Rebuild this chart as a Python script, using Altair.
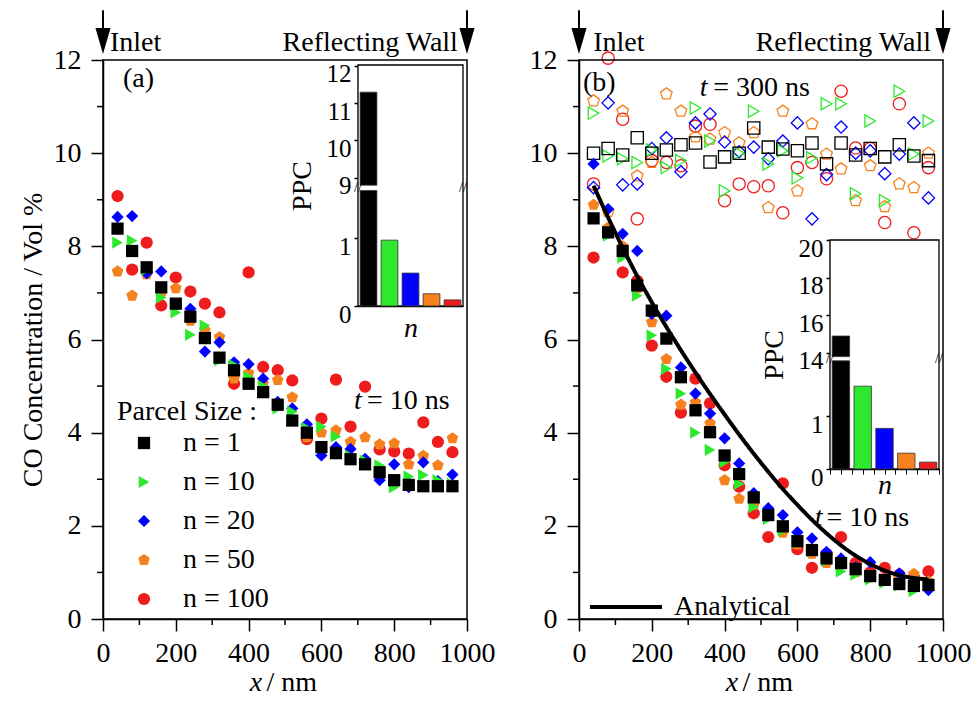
import altair as alt
import pandas as pd

FONT = "Liberation Serif"
FS = 28

# ---------------- data ----------------
x_nm = [40, 80, 120, 160, 200, 240, 280, 320, 360, 400, 440, 480,
        520, 560, 600, 640, 680, 720, 760, 800, 840, 880, 920, 960]

series = ["n = 1", "n = 10", "n = 20", "n = 50", "n = 100"]
series_colors = ["#000000", "#2ee82e", "#0000ff", "#f5821f", "#ee1c1c"]
PENTAGON = "M0,-1L0.951,-0.309L0.588,0.809L-0.588,0.809L-0.951,-0.309Z"
series_shapes = ["square", "triangle-right", "diamond", PENTAGON, "circle"]

# panel (a): t = 10 ns
a_n1 = [8.38, 7.90, 7.55, 7.12, 6.77, 6.49, 6.03, 5.61, 5.34, 5.05, 4.87, 4.60,
        4.26, 4.00, 3.69, 3.56, 3.43, 3.32, 3.15, 2.98, 2.88, 2.85, 2.85, 2.85]
a_n10 = [8.08, 8.12, 7.50, 6.90, 6.58, 6.10, 6.30, 5.55, 5.45, 5.20, 5.00, 4.52,
         4.45, 4.10, 4.13, 3.92, 3.50, 3.40, 3.30, 2.83, 3.06, 3.09, 2.98, 2.90]
a_n20 = [8.63, 8.65, 7.42, 7.46, 6.73, 6.66, 5.74, 5.94, 5.51, 5.47, 5.16, 4.66,
         4.52, 4.18, 3.51, 3.69, 3.65, 3.44, 2.98, 3.32, 2.83, 3.36, 2.96, 3.10]
a_n50 = [7.46, 6.94, 7.40, 7.00, 7.10, 6.40, 6.20, 6.05, 5.16, 5.28, 5.05, 5.13,
         4.76, 3.90, 4.00, 4.05, 3.80, 3.90, 3.75, 3.77, 3.32, 3.50, 3.30, 3.88]
a_n100 = [9.08, 7.50, 8.08, 6.73, 7.33, 7.03, 6.77, 6.58, 5.05, 7.44, 5.41, 5.34,
          5.12, 3.86, 4.30, 5.14, 4.13, 4.99, 3.64, 3.60, 3.55, 4.22, 3.80, 3.58]

# panel (b): t = 10 ns (filled)
b10_n1 = [8.60, 8.30, 7.90, 7.16, 6.62, 6.02, 5.19, 4.48, 4.01, 3.51, 3.11, 2.61,
          2.23, 1.99, 1.67, 1.48, 1.30, 1.20, 1.07, 0.92, 0.84, 0.75, 0.71, 0.73]
b10_n10 = [8.61, 8.23, 7.76, 6.94, 6.09, 5.37, 4.84, 4.00, 3.63, 3.37, 2.90, 2.40,
           2.15, 1.90, 1.64, 1.45, 1.25, 1.02, 0.95, 0.85, 0.78, 0.72, 0.60, 0.72]
b10_n20 = [9.77, 8.80, 8.27, 7.90, 6.55, 6.51, 5.40, 4.84, 4.41, 3.88, 3.34, 2.70,
           2.38, 2.23, 1.86, 1.73, 1.44, 1.30, 1.11, 1.22, 0.84, 0.98, 0.80, 0.62]
b10_n50 = [8.89, 8.40, 8.00, 7.10, 6.37, 5.58, 4.60, 4.65, 4.20, 2.98, 2.58, 2.45,
           2.30, 1.85, 1.60, 1.40, 1.20, 1.25, 1.00, 0.90, 0.85, 0.90, 0.97, 0.80]
b10_n100 = [7.76, 8.30, 7.44, 7.26, 5.87, 5.20, 4.43, 5.16, 4.63, 3.30, 2.84, 2.27,
            1.76, 2.91, 1.50, 1.10, 1.40, 1.76, 1.20, 1.00, 1.10, 0.95, 0.90, 1.02]

# panel (b): t = 300 ns (open)
b300_n1 = [10.00, 10.10, 9.96, 10.33, 10.00, 10.07, 10.18, 10.22, 9.81, 9.92, 10.00, 10.54,
           10.13, 10.09, 10.05, 10.22, 9.77, 10.22, 9.96, 10.10, 9.92, 10.18, 9.94, 9.84]
b300_n10 = [10.86, 9.94, 9.88, 9.80, 10.07, 9.69, 9.84, 10.97, 10.26, 9.19, 10.00, 10.90,
            9.77, 10.05, 9.47, 9.90, 11.06, 11.06, 9.13, 10.69, 8.98, 11.33, 9.98, 10.69]
b300_n20 = [9.26, 11.08, 9.32, 9.34, 10.10, 10.33, 9.60, 10.65, 10.84, 10.24, 10.03, 10.13,
            9.88, 10.26, 10.65, 8.59, 9.54, 10.56, 10.00, 10.05, 9.56, 9.98, 10.65, 9.04]
b300_n50 = [11.12, 8.75, 10.90, 9.51, 9.80, 11.27, 10.90, 10.35, 10.30, 10.44, 10.22, 10.44,
            8.83, 10.90, 9.19, 10.63, 9.98, 9.66, 8.98, 9.73, 8.85, 9.34, 9.26, 10.00]
b300_n100 = [9.34, 12.04, 10.73, 8.59, 9.84, 9.80, 9.73, 10.58, 10.62, 8.98, 9.34, 9.28,
             9.30, 8.72, 9.69, 9.80, 9.45, 11.33, 10.11, 10.10, 8.51, 11.06, 8.29, 9.69]

# analytical curve
ana_y = [9.30, 8.62, 7.97, 7.36, 6.80, 6.27, 5.77, 5.29, 4.83, 4.39, 3.96, 3.55,
         3.16, 2.79, 2.45, 2.13, 1.84, 1.58, 1.36, 1.18, 1.04, 0.94, 0.88, 0.85]

# insets: particles per cell
inset_n = ["1", "10", "20", "50", "100"]
ppc_a = [11.29, 0.97, 0.485, 0.18, 0.09]
ppc_b = [14.9, 1.57, 0.77, 0.30, 0.13]

# ticks
y_major = [0, 2, 4, 6, 8, 10, 12]
y_minor = [1, 3, 5, 7, 9, 11]
x_major = [0, 200, 400, 600, 800, 1000]
x_minor = [100, 300, 500, 700, 900]
inset_a_ticks = [0, 1, 9, 10, 11, 12]
inset_b_ticks = [0, 1, 14, 16, 18, 20]
inset_b_xticks = [0, 0.5, 1, 1.5, 2, 2.5, 3, 3.5, 4, 4.5, 5]

# broken axis parameters (lower top, gap, upper start, compression, display top)
brk_a = dict(L=1.70, G=0.08, U=8.8, K=0.55, top=3.55)
brk_b = dict(L=2.05, G=0.08, U=13.8, K=0.355, top=4.34)

# annotations (data coordinates)
ann_a_left = [(19, 12.36, "Inlet"), (55, 11.59, "(a)"), (725, 4.67, "= 10 ns"), (449, -1.37, "/ nm")]
ann_a_right = [(975, 12.36, "Reflecting Wall")]
ann_a_ital = [(711, 4.67, "t"), (437, -1.37, "x")]
ann_b_left = [(39, 12.36, "Inlet"), (11, 11.5, "(b)"), (369, 11.4, "= 300 ns"),
              (680, 2.16, "= 10 ns"), (449, -1.37, "/ nm")]
ann_b_right = [(967, 12.36, "Reflecting Wall")]
ann_b_ital = [(353, 11.4, "t"), (669, 2.16, "t"), (437, -1.37, "x")]

# ---------------- layout ----------------
W, H = 840, 559
A_RANGE = [0, 364]
B_RANGE = [476, 840]
INSET_A = dict(x=[255, 360], y=[246, 5])
INSET_B = dict(x=[727, 836], y=[409, 180])
ARROW = "M-0.58,-1L0.58,-1L0,1Z"


def long_df(cols):
    rows = []
    for s, vals in reversed(list(zip(series, cols))):
        for x, v in zip(x_nm, vals):
            rows.append({"x": x, "y": v, "series": s})
    return pd.DataFrame(rows)


def xscale(rng):
    return alt.Scale(domain=[0, 1000], range=rng, nice=False, zero=False)


def yscale():
    return alt.Scale(domain=[0, 12], nice=False, zero=False)


color_scale = alt.Scale(domain=series, range=series_colors)
shape_scale = alt.Scale(domain=series, range=series_shapes)


def text_chart(rows, xs, align, italic=False):
    df = pd.DataFrame(rows, columns=["x", "y", "text"])
    return alt.Chart(df).mark_text(
        align=align, baseline="middle", font=FONT, fontSize=FS,
        fontStyle="italic" if italic else "normal", color="black"
    ).encode(
        x=alt.X("x:Q", scale=xs),
        y=alt.Y("y:Q", scale=yscale()),
        text="text:N",
    )


def decorations(rng):
    xs = xscale(rng)
    frame = alt.Chart(pd.DataFrame({"x0": [0], "x1": [1000], "y0": [0], "y1": [12]})).mark_rect(
        fillOpacity=0, stroke="black", strokeWidth=1.5
    ).encode(x=alt.X("x0:Q", scale=xs), x2="x1:Q",
             y=alt.Y("y0:Q", scale=yscale()), y2="y1:Q")
    ymin = alt.Chart(pd.DataFrame({"v": y_minor, "x0": 0})).mark_rule(
        color="black", strokeWidth=1.5, x2Offset=-6
    ).encode(x=alt.X("x0:Q", scale=xs), x2="x0:Q",
             y=alt.Y("v:Q", scale=yscale()))
    xmin = alt.Chart(pd.DataFrame({"v": x_minor, "y0": 0})).mark_rule(
        color="black", strokeWidth=1.5, y2Offset=6
    ).encode(x=alt.X("v:Q", scale=xs),
             y=alt.Y("y0:Q", scale=yscale()), y2="y0:Q")
    arr_df = pd.DataFrame({"x": [0, 1000], "top": 13.07, "bot": 12.6, "head": 12.41})
    shaft = alt.Chart(arr_df).mark_rule(color="black", strokeWidth=2).encode(
        x=alt.X("x:Q", scale=xs),
        y=alt.Y("top:Q", scale=yscale()), y2="bot:Q")
    head = alt.Chart(arr_df).mark_point(shape=ARROW, filled=True, size=676, color="black", opacity=1).encode(
        x=alt.X("x:Q", scale=xs),
        y=alt.Y("head:Q", scale=yscale()))
    return [frame, ymin, xmin, shaft, head]


def main_axes(rng, y_offset, y_title):
    xa = alt.X("x:Q", scale=xscale(rng),
               axis=alt.Axis(values=x_major, tickSize=12, labelPadding=8, title=None,
                             orient="bottom", labelFlush=False, format="d"))
    ya = alt.Y("y:Q", scale=yscale(),
               axis=alt.Axis(values=y_major, tickSize=12, labelPadding=10, orient="left",
                             offset=y_offset, title=y_title, titlePadding=6, format="d"))
    return xa, ya


# ---------------- panel (a) ----------------
leg_a = alt.Legend(
    title="Parcel Size :", orient="none", legendX=14, legendY=338, padding=0,
    titleFont=FONT, titleFontSize=FS, titleFontWeight="normal", titleColor="black",
    titlePadding=3, titleLimit=400,
    labelFont=FONT, labelFontSize=FS, labelColor="black", labelOffset=25, labelLimit=300,
    symbolSize=150, symbolOffset=13, rowPadding=11, symbolStrokeWidth=0,
)
xa, ya = main_axes(A_RANGE, 0, "CO Concentration / Vol %")
scat_a = alt.Chart(long_df([a_n1, a_n10, a_n20, a_n50, a_n100])).mark_point(
    filled=True, size=150, opacity=1
).encode(
    x=xa, y=ya,
    color=alt.Color("series:N", scale=color_scale, legend=leg_a),
    shape=alt.Shape("series:N", scale=shape_scale, legend=leg_a),
)
panel_a = alt.layer(
    scat_a, *decorations(A_RANGE),
    text_chart(ann_a_left, xscale(A_RANGE), "left"),
    text_chart(ann_a_right, xscale(A_RANGE), "right"),
    text_chart(ann_a_ital, xscale(A_RANGE), "right", italic=True),
)

# ---------------- panel (b) ----------------
xb, yb = main_axes(B_RANGE, -B_RANGE[0], None)
open_b = alt.Chart(long_df([b300_n1, b300_n10, b300_n20, b300_n50, b300_n100])).mark_point(
    filled=False, size=150, strokeWidth=1.3, opacity=1
).encode(
    x=xb, y=yb,
    color=alt.Color("series:N", scale=color_scale, legend=None),
    shape=alt.Shape("series:N", scale=shape_scale, legend=None),
)
fill_b = alt.Chart(long_df([b10_n1, b10_n10, b10_n20, b10_n50, b10_n100])).mark_point(
    filled=True, size=150, opacity=1
).encode(
    x=alt.X("x:Q", scale=xscale(B_RANGE)),
    y=alt.Y("y:Q", scale=yscale()),
    color=alt.Color("series:N", scale=color_scale, legend=None),
    shape=alt.Shape("series:N", scale=shape_scale, legend=None),
)
ana_df = pd.DataFrame({"x": x_nm, "y": ana_y, "name": "Analytical"})
ana_line = alt.Chart(ana_df).mark_line(color="black", strokeWidth=4, interpolate="monotone").encode(
    x=alt.X("x:Q", scale=xscale(B_RANGE)),
    y=alt.Y("y:Q", scale=yscale()),
    strokeDash=alt.StrokeDash("name:N", legend=alt.Legend(
        title=None, orient="none", legendX=485, legendY=509, padding=0,
        symbolType="stroke", symbolSize=5184, symbolStrokeWidth=4, symbolStrokeColor="black",
        labelFont=FONT, labelFontSize=FS, labelColor="black", labelOffset=10, labelLimit=300)),
)
panel_b = alt.layer(
    open_b, fill_b,
    text_chart(ann_b_left, xscale(B_RANGE), "left"),
    text_chart(ann_b_right, xscale(B_RANGE), "right"),
    text_chart(ann_b_ital, xscale(B_RANGE), "right", italic=True),
    ana_line, *decorations(B_RANGE),
)


# ---------------- insets ----------------
def disp(v, b):
    return v if v <= b["L"] else b["L"] + b["G"] + (v - b["U"]) * b["K"]


def inset(ppc, b, geom, ticks, n_pad, xticks=None):
    L, G, U, K, top = b["L"], b["G"], b["U"], b["K"], b["top"]
    xs = alt.Scale(domain=[0, 5], range=geom["x"], nice=False, zero=False)
    ys = alt.Scale(domain=[0, top], range=geom["y"], nice=False, zero=False)
    label_expr = (f"datum.value <= {L + 0.01} ? format(datum.value, 'd') : "
                  f"format({U} + (datum.value - {L + G}) / {K}, '.0f')")
    if xticks:
        x_axis = alt.Axis(orient="bottom", offset=-(H - geom["y"][0]), labels=False, ticks=True,
                          values=xticks, tickSize=5, tickWidth=1,
                          title="n", titleFontStyle="italic", titlePadding=n_pad, domainWidth=1.3)
    else:
        x_axis = alt.Axis(orient="bottom", offset=-(H - geom["y"][0]), labels=False, ticks=False,
                          title="n", titleFontStyle="italic", titlePadding=n_pad, domainWidth=1.3)
    frame = alt.Chart(pd.DataFrame({"fx0": [0], "fx1": [5], "fy0": [0], "fy1": [top]})).mark_rect(
        fill="white", stroke="black", strokeWidth=1.3
    ).encode(
        x=alt.X("fx0:Q", scale=xs, axis=x_axis),
        x2="fx1:Q",
        y=alt.Y("fy0:Q", scale=ys, axis=alt.Axis(
            orient="left", offset=-geom["x"][0], values=[disp(t, b) for t in ticks],
            labelExpr=label_expr, tickSize=4, labelPadding=3, labelOffset=8,
            labelFontSize=25, title="PPC", titlePadding=10, domainWidth=1.3)),
        y2="fy1:Q",
    )
    df = pd.DataFrame({"i": list(range(5)), "n": inset_n, "ppc": ppc, "col": series_colors})
    base = alt.Chart(df).transform_calculate(
        x0="datum.i + 0.1", x1="datum.i + 0.9", zero="0",
        lo=f"min(datum.ppc, {L})", base=f"{L + G}",
        hi=f"datum.ppc <= {L} ? datum.ppc : {L + G} + (datum.ppc - {U}) * {K}",
    )
    lower = base.mark_rect(stroke="#333333", strokeWidth=0.8).encode(
        x=alt.X("x0:Q", scale=xs), x2="x1:Q",
        y=alt.Y("zero:Q", scale=ys), y2="lo:Q",
        color=alt.Color("col:N", scale=None),
    )
    upper = base.transform_filter(f"datum.ppc > {U}").mark_rect(stroke="#333333", strokeWidth=0.8).encode(
        x=alt.X("x0:Q", scale=xs), x2="x1:Q",
        y=alt.Y("base:Q", scale=ys), y2="hi:Q",
        color=alt.Color("col:N", scale=None),
    )
    brk = alt.Chart(pd.DataFrame({"bx": [0, 5], "by": [L + G / 2] * 2})).mark_text(
        text="//", font=FONT, fontSize=14, color="black", align="center", baseline="middle"
    ).encode(x=alt.X("bx:Q", scale=xs), y=alt.Y("by:Q", scale=ys))
    return alt.layer(frame, lower, upper, brk)


inset_a = inset(ppc_a, brk_a, INSET_A, inset_a_ticks, 8)
inset_b = inset(ppc_b, brk_b, INSET_B, inset_b_ticks, -3, xticks=inset_b_xticks)

chart = alt.layer(panel_a, panel_b, inset_a, inset_b).resolve_scale(
    x="independent", y="independent", color="independent", shape="independent"
).properties(
    width=W, height=H,
    autosize=alt.AutoSizeParams(type="none"),
    padding={"left": 103, "top": 60, "right": 33, "bottom": 82},
).configure_view(stroke=None).configure_axis(
    labelFont=FONT, labelFontSize=FS, labelColor="black",
    titleFont=FONT, titleFontSize=FS, titleFontWeight="normal", titleColor="black",
    domainColor="black", tickColor="black", domainWidth=1.5, tickWidth=1.5, grid=False,
)

chart.save("out.html", embed_options={"renderer": "svg", "actions": False})
